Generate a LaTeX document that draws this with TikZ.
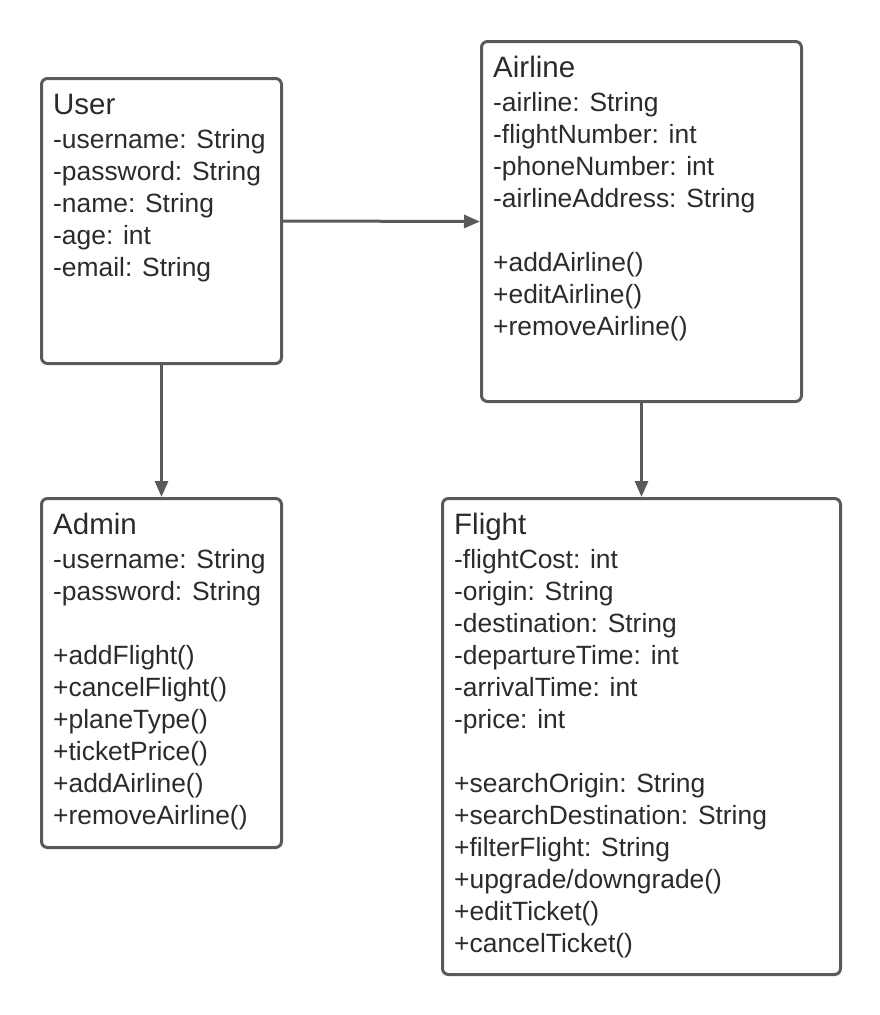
\documentclass[tikz,border=0pt]{standalone}
\usepackage{fontspec}
\setmainfont{Liberation Sans}
\usetikzlibrary{arrows.meta}
\definecolor{linec}{HTML}{5A5A5A}
\definecolor{textc}{HTML}{2B2B2B}
\tikzset{
  box/.style={draw=linec, line width=3pt, rounded corners=6pt, fill=white, rectangle, anchor=north west, inner sep=0pt},
  ttl/.style={anchor=base west, inner sep=0pt, text=textc, font=\fontsize{29.5}{34}\selectfont},
  attr/.style={anchor=base west, inner sep=0pt, text=textc, font=\fontsize{26.4}{32}\selectfont},
  conn/.style={draw=linec, line width=3pt, -{Triangle[length=16pt,width=13pt]}}
}
\begin{document}
\begin{tikzpicture}[x=1pt,y=-1pt]
\useasboundingbox[fill=white] (0,0) rectangle (880,1015);
% boxes
\node[box, minimum width=240pt, minimum height=285pt] (user) at (40,77) {};
\node[box, minimum width=320pt, minimum height=360pt] (airline) at (480,40) {};
\node[box, minimum width=240pt, minimum height=349pt] (admin) at (40,497) {};
\node[box, minimum width=398pt, minimum height=476pt] (flight) at (441,497) {};
% connectors
\draw[conn] (user.east) -- (airline.west);
\draw[conn] (user.south) -- (admin.north);
\draw[conn] (airline.south) -- (flight.north);
% User
\node[ttl] (ut) at (53,114) {User};
\node[attr] (u1) at (53,148) {-username: String};
\node[attr] (u2) at (53,180) {-password: String};
\node[attr] (u3) at (53,212) {-name: String};
\node[attr] (u4) at (53,244) {-age: int};
\node[attr] (u5) at (53,276) {-email: String};
% Airline
\node[ttl] (at) at (493,77) {Airline};
\node[attr] (a1) at (493,111) {-airline: String};
\node[attr] (a2) at (493,143) {-flightNumber: int};
\node[attr] (a3) at (493,175) {-phoneNumber: int};
\node[attr] (a4) at (493,207) {-airlineAddress: String};
\node[attr] (a5) at (493,271) {+addAirline()};
\node[attr] (a6) at (493,303) {+editAirline()};
\node[attr] (a7) at (493,335) {+removeAirline()};
% Admin
\node[ttl] (dt) at (53,534) {Admin};
\node[attr] (d1) at (53,568) {-username: String};
\node[attr] (d2) at (53,600) {-password: String};
\node[attr] (d3) at (53,664) {+addFlight()};
\node[attr] (d4) at (53,696) {+cancelFlight()};
\node[attr] (d5) at (53,728) {+planeType()};
\node[attr] (d6) at (53,760) {+ticketPrice()};
\node[attr] (d7) at (53,792) {+addAirline()};
\node[attr] (d8) at (53,824) {+removeAirline()};
% Flight
\node[ttl] (ft) at (454,534) {Flight};
\node[attr] (f1) at (454,568) {-flightCost: int};
\node[attr] (f2) at (454,600) {-origin: String};
\node[attr] (f3) at (454,632) {-destination: String};
\node[attr] (f4) at (454,664) {-departureTime: int};
\node[attr] (f5) at (454,696) {-arrivalTime: int};
\node[attr] (f6) at (454,728) {-price: int};
\node[attr] (f7) at (454,792) {+searchOrigin: String};
\node[attr] (f8) at (454,824) {+searchDestination: String};
\node[attr] (f9) at (454,856) {+filterFlight: String};
\node[attr] (f10) at (454,888) {+upgrade/downgrade()};
\node[attr] (f11) at (454,920) {+editTicket()};
\node[attr] (f12) at (454,952) {+cancelTicket()};
\end{tikzpicture}
\end{document}
